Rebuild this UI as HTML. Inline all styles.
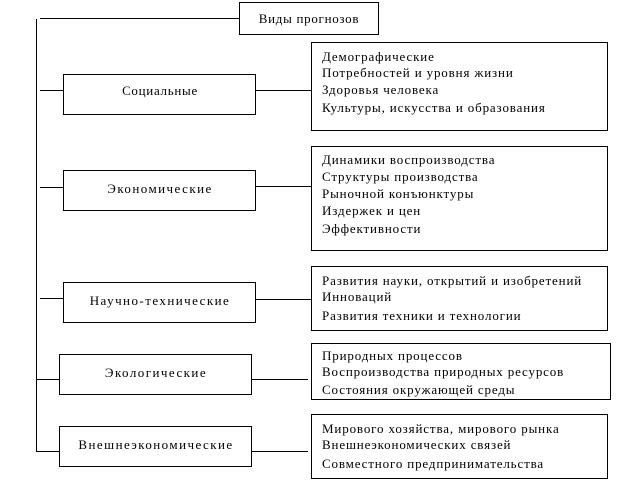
<!DOCTYPE html>
<html><head><meta charset="utf-8"><style>
html,body{margin:0;padding:0;background:#fff;width:640px;height:482px;overflow:hidden}
svg{display:block}
text{font-family:"Liberation Serif","DejaVu Serif",serif;font-size:13px;fill:#000;letter-spacing:0.85px}
.w{letter-spacing:1.45px}
.s{letter-spacing:0.7px}
</style></head><body>
<svg width="640" height="482" viewBox="0 0 640 482" xmlns="http://www.w3.org/2000/svg">
<g fill="none" stroke="#000" stroke-width="1">
<rect x="239.5" y="2.5" width="139" height="32"/>
<line x1="40" y1="18.5" x2="239" y2="18.5"/>
<line x1="36.5" y1="19" x2="36.5" y2="451"/>
<rect x="63.5" y="74.5" width="192" height="40"/>
<rect x="63.5" y="170.5" width="192" height="40"/>
<rect x="63.5" y="282.5" width="192" height="40"/>
<rect x="59.5" y="354.5" width="192" height="40"/>
<rect x="59.5" y="426.5" width="192" height="40"/>
<line x1="40" y1="90.5" x2="63" y2="90.5"/>
<line x1="40" y1="187.5" x2="63" y2="187.5"/>
<line x1="40" y1="298.5" x2="63" y2="298.5"/>
<line x1="36" y1="379.5" x2="59" y2="379.5"/>
<line x1="36" y1="451.5" x2="59" y2="451.5"/>
<line x1="256" y1="90.5" x2="311" y2="90.5"/>
<line x1="256" y1="186.5" x2="311" y2="186.5"/>
<line x1="256" y1="299.5" x2="311" y2="299.5"/>
<line x1="252" y1="379.5" x2="308" y2="379.5"/>
<line x1="252" y1="451.5" x2="308" y2="451.5"/>
<rect x="311.5" y="42.5" width="296" height="88"/>
<rect x="311.5" y="146.5" width="296" height="104"/>
<rect x="311.5" y="266.5" width="296" height="64"/>
<rect x="311.5" y="343.5" width="299" height="56"/>
<rect x="311.5" y="414.5" width="296" height="64"/>
</g>
<text class="s" x="309" y="23" text-anchor="middle">Виды прогнозов</text>
<text class="s" x="160" y="95" text-anchor="middle">Социальные</text>
<text class="w" x="160" y="193" text-anchor="middle">Экономические</text>
<text class="w" x="160" y="305" text-anchor="middle">Научно-технические</text>
<text class="w" x="156" y="377" text-anchor="middle">Экологические</text>
<text class="w" x="156" y="449" text-anchor="middle">Внешнеэкономические</text>
<g>
<text x="322" y="61">Демографические</text>
<text x="322" y="77">Потребностей и уровня жизни</text>
<text x="322" y="94">Здоровья человека</text>
<text x="322" y="112">Культуры, искусства и образования</text>
<text x="322" y="164">Динамики воспроизводства</text>
<text x="322" y="181">Структуры производства</text>
<text x="322" y="198">Рыночной конъюнктуры</text>
<text x="322" y="215">Издержек и цен</text>
<text x="322" y="233">Эффективности</text>
<text x="322" y="285">Развития науки, открытий и изобретений</text>
<text x="322" y="301">Инноваций</text>
<text x="322" y="320">Развития техники и технологии</text>
<text x="322" y="360">Природных процессов</text>
<text x="322" y="376">Воспроизводства природных ресурсов</text>
<text x="322" y="394">Состояния окружающей среды</text>
<text x="322" y="433">Мирового хозяйства, мирового рынка</text>
<text x="322" y="449">Внешнеэкономических связей</text>
<text x="322" y="468">Совместного предпринимательства</text>
</g>
</svg>
</body></html>
